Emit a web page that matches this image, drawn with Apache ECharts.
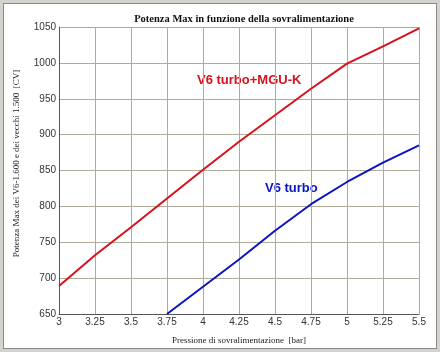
<!DOCTYPE html>
<html>
<head>
<meta charset="utf-8">
<script src="https://cdn.jsdelivr.net/npm/echarts@6/dist/echarts.min.js"></script>
<style>
  html, body { margin: 0; padding: 0; background: #d4d2cc; }
  #chart {
    position: absolute; left: 3px; top: 3px;
    width: 432px; height: 344px;
    background: #fff; border: 1px solid #8a8a8a;
  }
</style>
</head>
<body>
<div id="chart"></div>
<script>
// pressione di sovralimentazione [bar]
const pressure = [3, 3.25, 3.5, 3.75, 4, 4.25, 4.5, 4.75, 5, 5.25, 5.5]
// V6 turbo + MGU-K [CV]
const hybridPower = [689, 732, 771, 811, 851, 890, 927, 964, 999, 1023, 1048]
// V6 turbo [CV], starts at 3.75 bar
const turboPower = [null, null, null, 650, 688, 726, 766, 803, 834, 861, 885]

const chart = echarts.init(document.getElementById('chart'))

const pair = (xs, ys) => xs.map((x, i) => [x, ys[i]]).filter(p => p[1] !== null)

chart.setOption({
  animation: false,
  title: {
    text: 'Potenza Max in funzione della sovralimentazione',
    left: 235, top: 5, textAlign: 'center',
    textStyle: { fontFamily: 'Liberation Serif', fontSize: 10.5, fontWeight: 'bold', color: '#111' }
  },
  grid: { left: 55, top: 23, width: 360, height: 287, outerBoundsMode: 'none' },
  xAxis: {
    type: 'value', min: 3, max: 5.5, interval: 0.25,
    name: 'Pressione di sovralimentazione  [bar]',
    nameLocation: 'middle', nameGap: 22,
    nameTextStyle: { fontFamily: 'Liberation Serif', fontSize: 9, color: '#222' },
    axisLine: { lineStyle: { color: '#555', width: 1 } },
    axisTick: { show: false },
    axisLabel: { fontFamily: 'Liberation Sans', fontSize: 10, color: '#333', margin: 3 },
    splitLine: { lineStyle: { color: '#b0ab98', width: 1 } }
  },
  yAxis: {
    type: 'value', min: 650, max: 1050, interval: 50,
    name: 'Potenza Max dei V6-1.600 e dei vecchi 1.500  [CV]',
    nameLocation: 'middle', nameGap: 38,
    nameTextStyle: { fontFamily: 'Liberation Serif', fontSize: 9, color: '#222', padding: [0, 0, 0, 14] },
    axisLine: { show: true, lineStyle: { color: '#555', width: 1 } },
    axisTick: { show: false },
    axisLabel: {
      fontFamily: 'Liberation Sans', fontSize: 10, color: '#333', margin: 3,
      formatter: v => String(v)
    },
    splitLine: { lineStyle: { color: '#b0ab98', width: 1 } }
  },
  series: [
    {
      name: 'V6 turbo+MGU-K', type: 'line', data: pair(pressure, hybridPower),
      showSymbol: false, lineStyle: { color: '#d8101c', width: 2 }
    },
    {
      name: 'V6 turbo', type: 'line', data: pair(pressure, turboPower),
      showSymbol: false, lineStyle: { color: '#0a14c0', width: 2 }
    }
  ],
  graphic: [
    {
      type: 'text', left: 193, top: 70,
      style: { text: 'V6 turbo+MGU-K', fill: '#d8101c', font: 'bold 13px "Liberation Sans"' }
    },
    {
      type: 'text', left: 261, top: 178,
      style: { text: 'V6 turbo', fill: '#0a14c0', font: 'bold 13px "Liberation Sans"' }
    }
  ]
})
</script>
</body>
</html>
